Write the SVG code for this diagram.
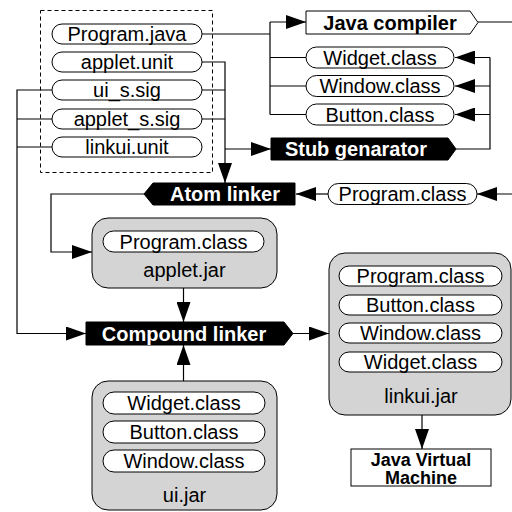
<svg xmlns="http://www.w3.org/2000/svg" width="512" height="512" viewBox="0 0 512 512">
<style>
text{font-family:"Liberation Sans",Arial,sans-serif;font-size:20px;text-anchor:middle;fill:#000}
.b{font-weight:bold}
.w{fill:#fff;font-weight:bold}
.pill{fill:#fff;stroke:#000;stroke-width:1}
.jar{fill:#d4d4d4;stroke:#000;stroke-width:1}
.blk{fill:#000;stroke:#000;stroke-width:1}
.wht{fill:#fff;stroke:#000;stroke-width:1}
.c{fill:none;stroke:#000;stroke-width:1.2}
.a{marker-end:url(#ah)}
</style>
<defs>
<marker id="ah" markerUnits="userSpaceOnUse" markerWidth="20" markerHeight="14" refX="20" refY="7" orient="auto" viewBox="0 0 20 14">
<path d="M0,0 L20,7 L0,14 z" fill="#000"/>
</marker>
</defs>
<rect x="40.5" y="10.5" width="172" height="162" fill="none" stroke="#000" stroke-dasharray="4,3"/>
<g id="connectors">
<path class="c" d="M202,34 H270 M270,22 V114.5 M270,57.5 H306 M270,86 H306 M270,114.5 H306"/>
<path class="c a" d="M270,22 H306"/>
<path class="c" d="M478,22 H512"/>
<path class="c" d="M456,149 H490 V57.5"/>
<path class="c a" d="M490,57.5 H455"/>
<path class="c a" d="M490,86 H455"/>
<path class="c a" d="M490,114.5 H455"/>
<path class="c a" d="M202,62 H225 V183"/>
<path class="c" d="M202,90 H225 M202,119 H225"/>
<path class="c a" d="M225,149 H271"/>
<path class="c a" d="M52,90 H17 V333.5 H86"/>
<path class="c" d="M52,119 H17 M52,147 H17"/>
<path class="c a" d="M512,194 H477"/>
<path class="c a" d="M328,194 H296"/>
<path class="c a" d="M144,194 H51 V252 H92"/>
<path class="c a" d="M183.5,288 V322"/>
<path class="c a" d="M183.5,381 V345"/>
<path class="c a" d="M293,333.5 H329"/>
<path class="c a" d="M422,415 V449"/>
</g>
<g id="program-java"><rect class="pill" x="52" y="24" width="150" height="20" rx="10"/><text x="127" y="41">Program.java</text></g>
<g id="applet-unit"><rect class="pill" x="52" y="52" width="150" height="20" rx="10"/><text x="127" y="69">applet.unit</text></g>
<g id="ui-s-sig"><rect class="pill" x="52" y="80" width="150" height="20" rx="10"/><text x="127" y="97">ui_s.sig</text></g>
<g id="applet-s-sig"><rect class="pill" x="52" y="109" width="150" height="20" rx="10"/><text x="127" y="126">applet_s.sig</text></g>
<g id="linkui-unit"><rect class="pill" x="52" y="137" width="150" height="20" rx="10"/><text x="127" y="154">linkui.unit</text></g>
<g id="java-compiler"><polygon class="wht" points="306,11 470,11 478,22.5 470,34 306,34"/><text class="b" x="390" y="29.5">Java compiler</text></g>
<g id="widget-class-top"><rect class="pill" x="306" y="47" width="148" height="21" rx="10.5"/><text x="380" y="64.5">Widget.class</text></g>
<g id="window-class-top"><rect class="pill" x="306" y="75.5" width="148" height="21" rx="10.5"/><text x="380" y="93">Window.class</text></g>
<g id="button-class-top"><rect class="pill" x="306" y="104" width="148" height="21" rx="10.5"/><text x="380" y="121.5">Button.class</text></g>
<g id="stub-genarator"><polygon class="blk" points="271,138 448,138 456,149 448,160 271,160"/><text class="w" x="356" y="156">Stub genarator</text></g>
<g id="atom-linker"><polygon class="blk" points="153,183 295,183 295,205 153,205 144,194"/><text class="w" x="225" y="201">Atom linker</text></g>
<g id="program-class-top"><rect class="pill" x="328" y="183.5" width="149" height="21" rx="10.5"/><text x="402.5" y="201">Program.class</text></g>
<g id="applet-jar"><rect class="jar" x="92" y="218" width="185" height="70" rx="16"/><rect class="pill" x="103" y="231" width="161" height="21" rx="10.5"/><text x="183.5" y="248.5">Program.class</text><text x="184.5" y="277">applet.jar</text></g>
<g id="compound-linker"><polygon class="blk" points="86,322 284,322 293,333.5 284,345 86,345"/><text class="w" x="184" y="340.5">Compound linker</text></g>
<g id="ui-jar"><rect class="jar" x="92" y="381" width="185" height="129" rx="16"/><rect class="pill" x="103" y="392" width="162" height="22" rx="11"/><text x="184" y="410">Widget.class</text><rect class="pill" x="103" y="421" width="162" height="22" rx="11"/><text x="184" y="439">Button.class</text><rect class="pill" x="103" y="450" width="162" height="22" rx="11"/><text x="184" y="468">Window.class</text><text x="184.5" y="502">ui.jar</text></g>
<g id="linkui-jar"><rect class="jar" x="329" y="253" width="182" height="162" rx="16"/><rect class="pill" x="339" y="266" width="163" height="20" rx="10"/><text x="420.5" y="283">Program.class</text><rect class="pill" x="339" y="295" width="163" height="20" rx="10"/><text x="420.5" y="312">Button.class</text><rect class="pill" x="339" y="323" width="163" height="20" rx="10"/><text x="420.5" y="340">Window.class</text><rect class="pill" x="339" y="352" width="163" height="20" rx="10"/><text x="420.5" y="369">Widget.class</text><text x="421" y="403">linkui.jar</text></g>
<g id="jvm"><rect class="wht" x="351" y="449" width="140" height="37"/><text class="b" x="421" y="465.5" style="font-size:18px">Java Virtual</text><text class="b" x="421" y="484" style="font-size:18px">Machine</text></g>
</svg>
